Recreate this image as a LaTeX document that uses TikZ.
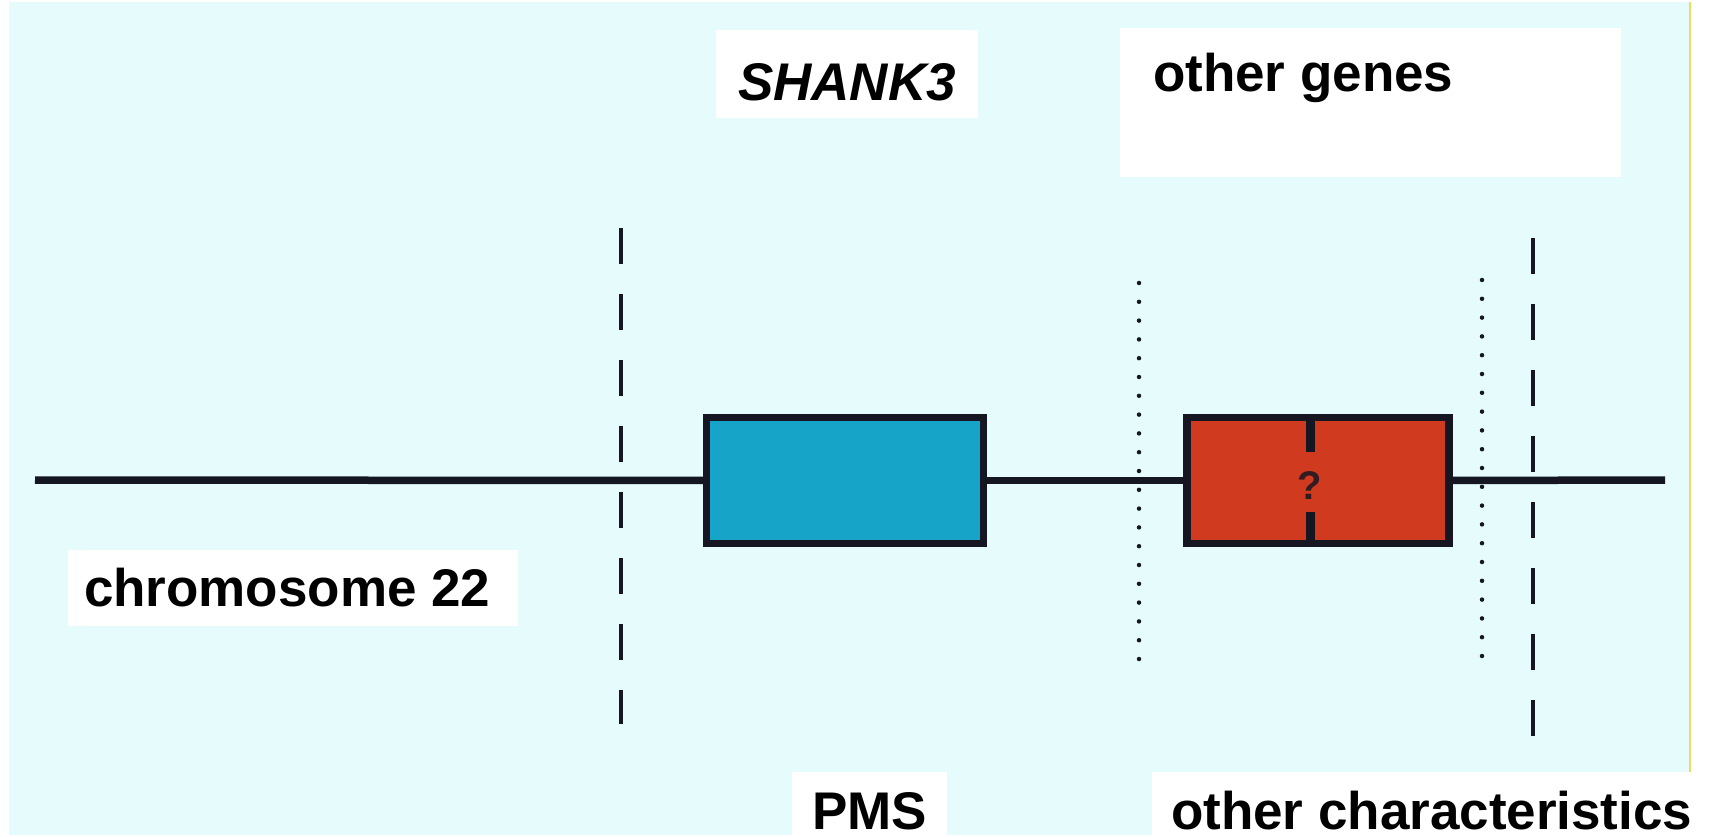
\documentclass[tikz,border=0pt]{standalone}
\usepackage{fontspec}
\newfontfamily\lbf{Liberation Sans}
\definecolor{bgcyan}{RGB}{230,251,251}
\definecolor{edgeyellow}{RGB}{240,220,90}
\definecolor{geneblue}{RGB}{22,164,200}
\definecolor{genered}{RGB}{208,58,30}
\definecolor{inkdark}{RGB}{22,22,34}
\tikzset{
  wbox/.style={fill=white, draw=none, inner sep=0pt, outer sep=0pt},
  lbl/.style={inner sep=0pt, outer sep=0pt, anchor=base west, text=black, font=\lbf\bfseries\fontsize{53}{60}\selectfont},
  chrline/.style={draw=inkdark, line width=7.5pt},
  genebox/.style={draw=inkdark, line width=7.5pt, inner sep=0pt, outer sep=0pt, minimum height=126pt},
  boundary/.style={draw=inkdark, line width=4.5pt, dash pattern=on 36pt off 30pt},
  dotline/.style={draw=inkdark, line width=4.5pt, line cap=round, dash pattern=on 0pt off 18.8pt},
  divider/.style={draw=inkdark, line width=9pt}
}
\begin{document}
\begin{tikzpicture}[x=1pt,y=-1pt]
\useasboundingbox (0,0) rectangle (1709,837);
\fill[white] (0,0) rectangle (1709,837);
\fill[bgcyan] (9,2) rectangle (1690,835);
\draw[edgeyellow, line width=2pt] (1690,2) -- (1690,835);

% white label boxes
\node[wbox, minimum width=262pt, minimum height=88pt] (shankbox) at (847,74) {};
\node[wbox, minimum width=501pt, minimum height=149pt] (genesbox) at (1370.5,102.5) {};
\node[wbox, minimum width=450pt, minimum height=76pt] (chrbox) at (293,588) {};
\node[wbox, minimum width=155pt, minimum height=65pt] (pmsbox) at (869.5,804.5) {};
\node[wbox, minimum width=557pt, minimum height=65pt] (charbox) at (1430.5,804.5) {};

% labels
\node[lbl] (shank) at (738,101) {\itshape SHANK3};
\node[lbl] (genes) at (1153,92) {other genes};
\node[lbl] (chr) at (84,606) {chromosome 22};
\node[lbl] (pms) at (812,829) {PMS};
\node[lbl] (chars) at (1171,829) {other characteristics};

% boundary lines
\coordinate (dl1) at (621,228);
\coordinate (dl2) at (621,724);
\coordinate (dr1) at (1533,238);
\coordinate (dr2) at (1533,736);
\coordinate (ol1) at (1139,283);
\coordinate (ol2) at (1139,664);
\coordinate (or1) at (1482,280);
\coordinate (or2) at (1482,661);
\draw[boundary] (dl1) -- (dl2);
\draw[boundary] (dr1) -- (dr2);
\draw[dotline] (ol1) -- (ol2);
\draw[dotline] (or1) -- (or2);

% chromosome and genes
\coordinate (chrL) at (35,480);
\coordinate (chrR) at (1665,480);
\node[genebox, fill=geneblue, minimum width=277pt] (shankgene) at (845,480.5) {};
\node[genebox, fill=genered, minimum width=262pt] (othergene) at (1318,480.5) {};
\draw[chrline] (chrL) -- (shankgene.west);
\draw[chrline] (shankgene.east) -- (othergene.west);
\draw[chrline] (othergene.east) -- (chrR);

\coordinate (dvt1) at (1310,414);
\coordinate (dvt2) at (1310,452);
\coordinate (dvb1) at (1310,512);
\coordinate (dvb2) at (1310,547);
\draw[divider] (dvt1) -- (dvt2);
\draw[divider] (dvb1) -- (dvb2);
\node[inner sep=0pt, text=inkdark!85!genered, font=\lbf\bfseries\fontsize{40}{44}\selectfont] (q) at (1310,486) {?};
\end{tikzpicture}
\end{document}
